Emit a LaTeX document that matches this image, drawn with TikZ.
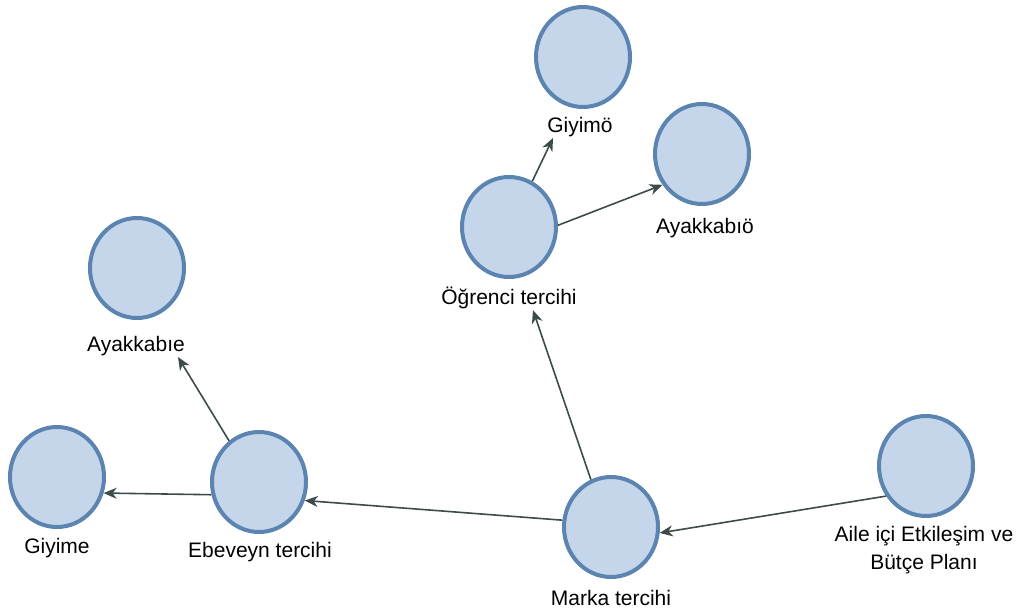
\documentclass[tikz,border=0pt]{standalone}
\usepackage{fontspec}
\setmainfont{Liberation Sans}
\usepackage{tikz}
\usetikzlibrary{shapes,arrows,positioning,calc,arrows.meta}
\definecolor{cfill}{HTML}{C5D6EA}
\definecolor{cline}{HTML}{5B84B1}
\definecolor{cedge}{HTML}{3E4B4B}

\begin{document}
\begin{tikzpicture}[x=1pt,y=-1pt,
    concept/.style={ellipse, draw=cline, fill=cfill, line width=4pt, minimum width=94pt, minimum height=100pt, inner sep=0pt},
    lbl/.style={font=\fontsize{21}{28}\selectfont, inner sep=1pt, align=center},
    link/.style={draw=cedge, line width=1.6pt, -{Stealth[length=13pt,width=11pt,inset=4pt]}}]
        \useasboundingbox (0,0) rectangle (1029,616);
        % circles
        \node[concept] (giyo) at (583,57) {};
        \node[concept] (ayko) at (702,154) {};
        \node[concept] (ogr) at (509,227) {};
        \node[concept] (ayke) at (137,268) {};
        \node[concept] (giye) at (57,477) {};
        \node[concept] (ebe) at (259,482) {};
        \node[concept] (marka) at (611,527) {};
        \node[concept] (aile) at (926,466) {};
        % labels
        \node[lbl] (giyoL) at (580,127) {Giyimö};
        \node[lbl] (aykoL) at (705,228) {Ayakkabıö};
        \node[lbl] (ogrL) at (509,298) {Öğrenci tercihi};
        \node[lbl] (aykeL) at (136,346) {Ayakkabıe};
        \node[lbl] (giyeL) at (57,548) {Giyime};
        \node[lbl] (ebeL) at (260,552) {Ebeveyn tercihi};
        \node[lbl] (markaL) at (611,598) {Marka tercihi};
        \node[lbl] (aileL) at (924,550) {Aile içi Etkileşim ve\\Bütçe Planı};
        % arrows
        \draw[link] (aile.217) -- (marka.353);
        \draw[link] (marka.172) -- (ebe.338);
        \draw[link] (ebe.195) -- (giye.341);
        \draw[link] (ebe.126) -- ($(aykeL.south)+(42,0)$);
        \draw[link] (marka.113) -- ($(ogrL.south)+(24,0)$);
        \draw[link] (ogr.63) -- ($(giyoL.south)+(-27,0)$);
        \draw[link] (ogr.2) -- (ayko.218);
\end{tikzpicture}
\end{document}
